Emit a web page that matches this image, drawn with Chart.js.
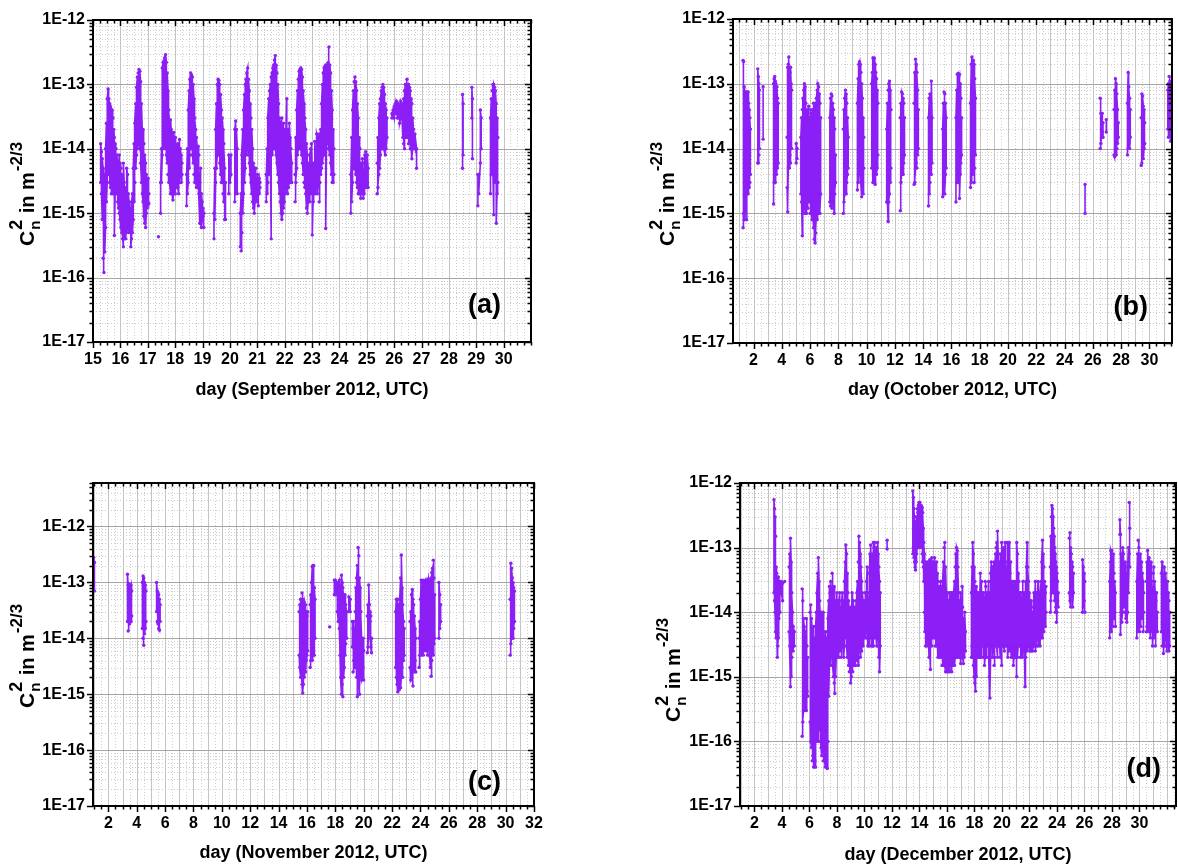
<!DOCTYPE html>
<html lang="en">
<head>
<meta charset="UTF-8" />
<title>Cn2 time series, September - December 2012</title>
<script src="https://cdn.jsdelivr.net/npm/chart.js"></script>
<style>
  html, body { margin: 0; padding: 0; background: #fff; overflow: hidden; }
  body { width: 1178px; height: 867px; position: relative; }
  canvas { position: absolute; }
</style>
</head>
<body>
<canvas id="sep"></canvas>
<canvas id="oct"></canvas>
<canvas id="nov"></canvas>
<canvas id="dec"></canvas>
<script>
// each run is a block of [day, lowest Cn2, highest Cn2] rows taken from the scintillometer record
const sepRuns = [
  [[15.28,3e-15,1.2e-14],[15.31,2e-15,9e-15],[15.34,8e-16,7e-15],[15.37,2e-16,5e-15],[15.40,1.2e-16,3e-15],
   [15.43,2.5e-16,4e-15],[15.46,6e-16,1e-14],[15.49,1.5e-15,2.5e-14],[15.52,3e-15,6e-14],[15.55,5e-15,8.5e-14],
   [15.58,4e-15,6e-14],[15.61,3e-15,5e-14],[15.64,2.5e-15,4.5e-14],[15.67,2e-15,4e-14],[15.70,2.5e-15,4e-14],
   [15.73,2e-15,3e-14],[15.76,2e-15,2e-14],[15.78,4.5e-16,1.5e-14],[15.81,2e-15,1.2e-14],[15.84,2.5e-15,1e-14],
   [15.87,2e-15,8e-15],[15.90,1.5e-15,6e-15],[15.93,1.2e-15,5e-15],[15.96,1e-15,8e-15],[15.99,8e-16,6e-15],
   [16.02,6e-16,5e-15],[16.05,5e-16,4e-15],[16.08,4e-16,3e-15],[16.11,3e-16,6e-15],[16.14,4e-16,3e-15],
   [16.17,5e-16,2.5e-15],[16.20,4e-16,2e-15],[16.23,6e-16,5e-15],[16.26,7e-16,4e-15],[16.29,5e-16,2e-15],
   [16.32,8e-16,1.5e-15],[16.35,5e-16,1.2e-15],[16.38,3e-16,1e-15],[16.41,4e-16,1.5e-15],[16.44,5e-16,2e-15],
   [16.47,8e-16,5e-15],[16.50,1.5e-15,1.2e-14],[16.53,3e-15,2.5e-14],[16.56,5e-15,5e-14],[16.59,8e-15,9e-14],
   [16.62,1e-14,1.3e-13],[16.65,1.5e-14,1.5e-13],[16.68,1.2e-14,1.7e-13],[16.71,1e-14,1.6e-13],[16.74,6e-15,1.1e-13],
   [16.77,3e-15,5e-14],[16.80,2e-15,2e-14],[16.83,1.5e-15,2e-14],[16.86,9e-16,1.2e-14],[16.89,7e-16,8e-15],
   [16.92,6e-16,6e-15],[16.95,1e-15,4e-15],[16.98,1.2e-15,3e-15],[17.01,1.5e-15,3.5e-15],[17.04,1.4e-15,2e-15]],
  [[17.39,4.3e-16,4.3e-16]],
  [[17.47,1e-15,3e-15],[17.50,3e-15,1e-14],[17.53,8e-15,1.8e-13],[17.56,1e-14,2.2e-13],[17.59,1.5e-14,2.3e-13],
   [17.62,1.2e-14,2.6e-13],[17.65,1e-14,2.9e-13],[17.68,8e-15,2.2e-13],[17.71,6e-15,1.5e-13],[17.74,4e-15,8e-14],
   [17.77,3e-15,4e-14],[17.80,3e-15,2.5e-14],[17.83,2e-15,2.8e-14],[17.86,2.5e-15,2e-14],[17.89,2e-15,1.8e-14],
   [17.92,1.6e-15,1.5e-14],[17.95,2e-15,1.8e-14],[17.98,2.5e-15,1.2e-14],[18.01,2e-15,1.5e-14],[18.04,2.5e-15,1e-14],
   [18.07,3e-15,8e-15],[18.10,2.5e-15,1.2e-14],[18.13,2e-15,8e-15],[18.16,3e-15,1.4e-14],[18.19,4e-15,1e-14],
   [18.22,3e-15,8e-15],[18.25,4e-15,6e-15]],
  [[18.42,1.3e-15,4e-15],[18.45,2e-15,1e-14],[18.48,3e-15,4e-14],[18.51,5e-15,8e-14],[18.54,8e-15,1.2e-13],
   [18.57,1e-14,1.5e-13],[18.60,1e-14,1.4e-13],[18.63,8e-15,1.3e-13],[18.66,6e-15,1e-13],[18.69,4e-15,6e-14],
   [18.72,3e-15,3e-14],[18.75,3e-15,2e-14],[18.78,2.5e-15,1.5e-14],[18.81,2.5e-15,1e-14],[18.84,3e-15,1.1e-14],
   [18.87,2e-15,8e-15],[18.90,7e-16,3e-15],[18.93,7e-16,5e-15],[18.96,6e-16,2e-15],[18.99,8e-16,1.5e-15],
   [19.02,9e-16,1.2e-15],[19.05,6e-16,1e-15]],
  [[19.42,4e-16,1e-15],[19.45,8e-16,5e-15],[19.48,3e-15,2e-14],[19.51,5e-15,5e-14],[19.54,8e-15,1e-13],
   [19.57,1e-14,1.2e-13],[19.60,8e-15,1.15e-13],[19.63,6e-15,1e-13],[19.66,4e-15,7e-14],[19.69,3e-15,4e-14],
   [19.72,3e-15,3e-14],[19.75,2e-15,2e-14],[19.78,1.5e-15,1.2e-14],[19.81,8e-16,5e-15],[19.84,8e-16,3e-15]],
  [[19.96,2e-15,8e-15],[20.00,3e-15,6e-15],[20.04,4e-15,8e-15]],
  [[20.18,1.5e-15,2e-14],[20.21,2e-15,2.7e-14],[20.24,3e-15,2e-14],[20.27,2e-15,1e-14]],
  [[20.38,3e-16,1e-15],[20.41,2.6e-16,2e-15],[20.44,5e-16,8e-15],[20.47,1e-15,2e-14],[20.50,2e-15,4e-14],
   [20.53,3e-15,7e-14],[20.56,5e-15,1e-13],[20.59,8e-15,1.2e-13],[20.62,1e-14,1.5e-13],[20.65,1.2e-14,1.8e-13],
   [20.68,8e-15,1.2e-13],[20.71,6e-15,8e-14],[20.74,4e-15,5e-14],[20.77,3e-15,3e-14],[20.80,2e-15,2e-14],
   [20.83,1.5e-15,1e-14],[20.86,1.2e-15,6e-15],[20.89,1e-15,5e-15],[20.92,1.5e-15,4e-15],[20.95,2e-15,5e-15],
   [20.98,1.5e-15,3e-15],[21.01,2e-15,4e-15],[21.04,1.3e-15,3e-15],[21.07,2e-15,3.5e-15],[21.10,2.5e-15,3e-15]],
  [[21.33,1.5e-15,4e-15],[21.36,2e-15,1e-14],[21.39,3e-15,3e-14],[21.42,4e-15,6e-14],[21.45,5e-15,8e-14],
   [21.48,6e-15,1e-13],[21.51,4e-16,1.3e-13],[21.54,8e-15,1.5e-13],[21.57,1e-14,1.8e-13],[21.60,1e-14,2e-13],
   [21.63,1.2e-14,2.4e-13],[21.66,1e-14,2.8e-13],[21.69,8e-15,2e-13],[21.72,6e-15,1.5e-13],[21.75,4e-15,1e-13],
   [21.78,3e-15,5e-14],[21.81,2e-15,3e-14],[21.84,1.5e-15,2.5e-14],[21.87,1e-15,2e-14],[21.90,8e-16,3e-14],
   [21.93,1e-15,2e-14],[21.96,1.2e-15,2.5e-14],[21.99,1.5e-15,1.5e-14],[22.02,2e-15,2e-14],[22.05,2.5e-15,1.5e-14],
   [22.08,3e-15,6e-14],[22.11,2e-15,1.2e-14],[22.14,2.5e-15,2e-14],[22.17,3e-15,2.5e-14],[22.20,4e-15,1.5e-14],
   [22.23,3e-15,1e-14],[22.26,3e-15,6e-15]],
  [[22.38,1.5e-15,4e-15],[22.41,3e-15,1.5e-14],[22.44,5e-15,4e-14],[22.47,8e-15,8e-14],[22.50,1e-14,1.2e-13],
   [22.53,1e-14,1.6e-13],[22.56,1.2e-14,1.7e-13],[22.59,1e-14,1.8e-13],[22.62,8e-15,1.7e-13],[22.65,6e-15,1.3e-13],
   [22.68,4e-15,8e-14],[22.71,3e-15,5e-14],[22.74,2.5e-15,3e-14],[22.77,2e-15,2e-14],[22.80,1.2e-15,1.2e-14],
   [22.83,1e-15,8e-15],[22.86,1.5e-15,5e-15],[22.89,2e-15,6e-15],[22.92,1.5e-15,8e-15],[22.95,2e-15,1e-14],
   [22.98,2.5e-15,1.2e-14],[23.01,4.6e-16,5e-15],[23.04,1.5e-15,3e-15],[23.07,2e-15,6e-15],[23.10,2.5e-15,1.3e-14],
   [23.13,2e-15,8e-15],[23.17,3e-15,1.7e-14],[23.20,2e-15,1.5e-14],[23.23,3e-15,1.2e-14],[23.26,1.5e-15,1.7e-14],
   [23.29,3e-15,1e-14],[23.32,4e-15,2e-14],[23.35,5e-15,5e-14],[23.38,6e-15,1e-13],[23.41,8e-15,1.5e-13],
   [23.44,1e-14,1.8e-13],[23.47,8e-15,1.9e-13],[23.50,5.8e-16,2e-13],[23.53,1e-14,1.9e-13],[23.56,1.2e-14,2e-13],
   [23.59,1.5e-14,2.2e-13],[23.62,1e-14,3.8e-13],[23.65,8e-15,2e-13],[23.68,6e-15,1.5e-13],[23.71,4e-15,8e-14],
   [23.74,3e-15,4e-14],[23.77,3e-15,2e-14],[23.80,4e-15,1e-14]],
  [[24.42,1e-15,4e-15],[24.45,1.5e-15,1.5e-14],[24.48,3e-15,4e-14],[24.51,5e-15,8e-14],[24.54,6e-15,1.1e-13],
   [24.57,5e-15,1.3e-13],[24.60,4e-15,1.1e-13],[24.63,3e-15,8e-14],[24.66,2.5e-15,5e-14],[24.69,2e-15,3e-14],
   [24.72,2e-15,1.5e-14],[24.75,2.5e-15,1e-14],[24.78,1.7e-15,6e-15],[24.81,2e-15,5e-15],[24.84,2.5e-15,7e-15],
   [24.87,1.7e-15,4e-15],[24.90,2e-15,6e-15],[24.93,2.5e-15,8e-15],[24.96,3e-15,9e-15],[24.99,2.5e-15,6e-15],
   [25.02,3e-15,8e-15],[25.05,2.5e-15,5e-15]],
  [[25.38,2e-15,6e-15],[25.41,2.5e-15,1.5e-14],[25.44,4e-15,3e-14],[25.47,5e-15,5e-14],[25.50,8e-15,6e-14],
   [25.53,1e-14,8e-14],[25.56,1e-14,9e-14],[25.59,1.2e-14,1e-13],[25.62,1e-14,9e-14],[25.65,1e-14,7e-14],
   [25.68,8e-15,5e-14],[25.71,1e-14,4e-14],[25.74,1.5e-14,3e-14]],
  [[25.92,3e-14,3.5e-14],[25.96,3.5e-14,4e-14],[26.00,3e-14,4.5e-14],[26.04,3.5e-14,5e-14],[26.08,3.5e-14,5.5e-14],
   [26.12,3e-14,5e-14],[26.16,3e-14,5e-14],[26.20,2.5e-14,4.5e-14],[26.24,3e-14,5.5e-14],[26.28,3.5e-14,5e-14],
   [26.32,1.5e-14,4e-14],[26.35,1.2e-14,6e-14],[26.38,1e-14,8e-14],[26.41,1.5e-14,1e-13],[26.44,2e-14,1e-13],
   [26.47,1.5e-14,1.2e-13],[26.50,2e-14,1e-13],[26.53,1.2e-14,1e-13],[26.56,1.5e-14,9e-14],[26.59,1e-14,8e-14],
   [26.62,1.2e-14,6e-14],[26.65,7e-15,5e-14],[26.68,1e-14,3e-14],[26.71,1.2e-14,2e-14],[26.76,1e-14,1.7e-14],
   [26.82,5e-15,1e-14]],
  [[28.50,5e-15,7e-14],[28.52,8e-15,5e-14]],
  [[28.84,3e-14,9e-14],[28.86,7e-15,6e-14]],
  [[29.06,1.3e-15,4e-15],[29.09,2e-15,4e-15],[29.15,6e-15,4e-14],[29.18,1e-14,3e-14]],
  [[29.52,2e-15,3e-14],[29.55,4e-15,6e-14],[29.58,5e-15,8e-14],[29.61,6e-15,1e-13],[29.64,9.5e-16,1e-13],
   [29.67,4e-15,9e-14],[29.70,3e-15,8e-14],[29.73,7e-16,5e-14],[29.76,2e-15,3e-14],[29.79,3e-15,1.5e-14]]
];

const octRuns = [
  [[1.26,6e-16,2.3e-13],[1.30,1e-15,2.2e-13],[1.34,8e-16,9e-14],[1.38,2e-15,6e-14],[1.42,1.5e-15,7e-14],
   [1.46,2e-15,7.5e-14],[1.50,8e-16,7e-14],[1.54,2e-15,7.5e-14],[1.58,3e-15,6e-14],[1.62,2e-15,7.5e-14],
   [1.66,3e-15,5e-14],[1.70,2.5e-15,4e-14],[1.74,3e-15,3e-14],[1.78,4e-15,2e-14]],
  [[2.30,6e-15,1.7e-13],[2.34,6e-15,1.3e-13],[2.38,8e-15,1e-13],[2.42,1e-14,8e-14]],
  [[2.68,1.4e-14,9e-14]],
  [[3.42,1.4e-15,1e-13],[3.46,3e-15,1.2e-13],[3.50,4e-15,1.3e-13],[3.54,3e-15,1.1e-13],[3.58,5e-15,1e-13],
   [3.62,4e-15,8e-14],[3.66,6e-15,9e-14],[3.70,5e-15,6e-14],[3.75,6e-15,5e-14]],
  [[4.38,2.5e-15,1.5e-14],[4.42,1.05e-15,1.8e-13],[4.46,5e-15,2e-13],[4.50,6e-15,2.6e-13],[4.54,5e-15,1.8e-13],
   [4.58,8e-15,1.5e-13],[4.62,6e-15,1.8e-13],[4.66,1e-14,1e-13],[4.70,1e-14,8e-14]],
  [[5.02,6e-15,1.2e-14],[5.08,7e-15,1e-14]],
  [[5.35,2e-15,1.5e-14],[5.40,1.5e-15,3e-14],[5.45,4.5e-16,4e-14],[5.50,1e-15,6e-14],[5.55,1.2e-15,8e-14],
   [5.60,2e-15,1e-13],[5.65,1e-15,9e-14],[5.70,1.5e-15,5e-14],[5.75,1e-15,3e-14],[5.80,2e-15,4e-14],
   [5.85,1.2e-15,3.5e-14],[5.90,2e-15,4.5e-14],[5.95,1.5e-15,3e-14],[6.00,1e-15,2.5e-14],[6.05,2e-15,4e-14],
   [6.10,1e-15,3e-14],[6.15,8e-16,3.5e-14],[6.20,1.2e-15,4e-14],[6.25,6e-16,5e-14],[6.30,4e-16,4e-14],
   [6.35,3.5e-16,3e-14],[6.40,5e-16,5e-14],[6.45,1e-15,6e-14],[6.50,8e-16,8e-14],[6.55,1.5e-15,1e-13],
   [6.60,1e-15,9e-14],[6.65,2e-15,7e-14],[6.70,1e-15,5e-14],[6.75,2e-15,3e-14]],
  [[7.40,1.5e-15,3e-14],[7.45,1.3e-15,6e-14],[7.50,2e-15,7e-14],[7.55,1.2e-15,6.5e-14],[7.60,1.5e-15,5e-14],
   [7.65,2e-15,4e-14],[7.70,1e-15,3e-14],[7.75,2e-15,2e-14],[7.80,3e-15,8e-15]],
  [[8.35,1e-15,2e-14],[8.40,1.5e-15,4e-14],[8.45,2e-15,6e-14],[8.50,3e-15,8e-14],[8.55,2e-15,7e-14],
   [8.60,3e-15,5e-14],[8.65,4e-15,3e-14],[8.70,5e-15,1.5e-14]],
  [[9.35,2.3e-15,5e-14],[9.40,3e-15,1.2e-13],[9.45,5e-15,2e-13],[9.50,6e-15,2.2e-13],[9.55,4e-15,2e-13],
   [9.60,3e-15,1.5e-13],[9.65,1.8e-15,1e-13],[9.70,3e-15,6e-14],[9.75,2e-15,3e-14],[9.80,5e-15,1.5e-14]],
  [[10.36,5e-15,1e-13],[10.40,5e-15,1.5e-13],[10.45,3e-15,2.5e-13],[10.50,5e-15,2.4e-13],[10.55,3e-15,2.5e-13],
   [10.60,2.8e-15,2e-13],[10.65,6e-15,1.5e-13],[10.70,4e-15,1.2e-13],[10.75,5e-15,8e-14],[10.80,8e-15,5e-14]],
  [[11.42,1.5e-15,2e-14],[11.47,1.5e-15,5e-14],[11.52,7.5e-16,8e-14],[11.57,1.5e-15,1e-13],[11.62,2e-15,1.1e-13],
   [11.67,3e-15,8e-14],[11.72,5e-15,4e-14]],
  [[12.38,1.1e-15,3e-14],[12.43,3e-15,5e-14],[12.48,4e-15,7.5e-14],[12.53,5e-15,7e-14],[12.58,4e-15,6e-14],
   [12.63,6e-15,5e-14],[12.68,8e-15,3e-14]],
  [[13.36,2.8e-15,5e-14],[13.41,3e-15,1.5e-13],[13.46,5e-15,2.4e-13],[13.51,6e-15,2e-13],[13.56,5e-15,1.5e-13],
   [13.61,8e-15,8e-14],[13.66,1e-14,4e-14]],
  [[14.38,1.3e-15,3e-14],[14.43,2e-15,6e-14],[14.48,3e-15,7e-14],[14.53,5e-15,5e-14],[14.58,4e-15,1.1e-13],
   [14.63,6e-15,3e-14]],
  [[15.38,1.8e-15,2e-14],[15.43,2e-15,5e-14],[15.48,3e-15,7.5e-14],[15.53,2e-15,7e-14],[15.58,4e-15,5e-14],
   [15.63,5e-15,3e-14]],
  [[16.32,1.5e-15,3e-14],[16.37,3e-15,8e-14],[16.42,4e-15,1.4e-13],[16.47,3e-15,1.45e-13],[16.52,5e-15,1.3e-13],
   [16.57,1.7e-15,1.4e-13],[16.62,4e-15,1e-13],[16.67,6e-15,6e-14],[16.72,8e-15,3e-14]],
  [[17.35,2.5e-15,5e-14],[17.40,3e-15,2e-13],[17.45,5e-15,2.6e-13],[17.50,4e-15,2.2e-13],[17.55,6e-15,2.3e-13],
   [17.60,3e-15,2e-13],[17.65,5e-15,1.2e-13],[17.70,8e-15,6e-14]],
  [[25.45,1e-15,2.8e-15]],
  [[26.52,1e-14,6e-14],[26.57,1.2e-14,3.5e-14],[26.62,1.5e-14,3e-14],[26.67,1.8e-14,3.5e-14],[26.72,1.5e-14,2.5e-14]],
  [[26.95,1.8e-14,2.8e-14]],
  [[27.50,8e-15,4e-14],[27.55,7.5e-15,8e-14],[27.60,1e-14,1.2e-13],[27.65,8e-15,1e-13],[27.70,1e-14,7e-14],
   [27.75,1.2e-14,4e-14],[27.80,1.5e-14,2.5e-14]],
  [[28.45,8e-15,5e-14],[28.50,1e-14,1.5e-13],[28.55,1.2e-14,9e-14],[28.60,1e-14,6e-14],[28.65,1.5e-14,4e-14]],
  [[29.42,5.5e-15,3e-14],[29.47,6e-15,7e-14],[29.52,8e-15,6.5e-14],[29.57,7e-15,4.5e-14],[29.62,1e-14,4e-14],
   [29.67,1.2e-14,2.5e-14]],
  [[31.30,2e-14,8e-14],[31.35,1.5e-14,1e-13],[31.40,3e-14,1.3e-13],[31.45,2e-14,1.1e-13],[31.50,1.3e-14,1e-13],
   [31.55,2e-14,9e-14]]
];

const novRuns = [
  [[0.97,2.2e-13,2.8e-13],[1.02,7e-14,2.3e-13]],
  [[3.35,2e-14,1.4e-13],[3.40,1.35e-14,9e-14],[3.45,2e-14,9.5e-14],[3.50,1.8e-14,9e-14],[3.55,2.2e-14,8e-14],
   [3.60,2e-14,9e-14],[3.65,2.5e-14,7e-14]],
  [[4.40,1.5e-14,1e-13],[4.45,1e-14,1.3e-13],[4.50,7.5e-15,1.2e-13],[4.55,1.2e-14,1e-13],[4.60,1.5e-14,9e-14],
   [4.65,2e-14,7e-14]],
  [[5.40,3e-14,1e-13],[5.45,2e-14,7e-14],[5.50,1.8e-14,6.5e-14],[5.55,1.5e-14,6e-14],[5.60,1.4e-14,5e-14],
   [5.65,2e-14,4e-14]],
  [[15.45,5e-15,3e-14],[15.50,3e-15,4e-14],[15.55,2e-15,5e-14],[15.60,2.5e-15,4e-14],[15.65,1.5e-15,6.5e-14],
   [15.70,1.05e-15,5e-14],[15.75,1.5e-15,4e-14],[15.80,2e-15,4.5e-14],[15.85,3e-15,3e-14],[15.90,2.5e-15,4e-14],
   [15.95,4e-15,3e-14],[16.00,5e-15,2.5e-14],[16.05,6e-15,3e-14]],
  [[16.22,3e-15,4e-14],[16.27,4e-15,6e-14],[16.32,5e-15,1e-13],[16.37,4e-15,1.9e-13],[16.42,5e-15,2e-13],
   [16.47,6e-15,2e-13],[16.52,5e-15,8e-14],[16.57,1e-14,5e-14]],
  [[17.60,1.6e-14,1.6e-14]],
  [[17.93,6e-14,1.1e-13],[18.00,8e-14,1.1e-13],[18.07,6e-14,1e-13],[18.14,3e-14,9e-14],[18.21,2e-14,1e-13],
   [18.28,1.5e-14,1.1e-13],[18.33,5e-15,8e-14],[18.38,2e-15,9e-14],[18.43,1e-15,1.35e-13],[18.48,1.5e-15,1e-13],
   [18.53,9e-16,8e-14],[18.58,2e-15,6e-14],[18.63,3e-15,5e-14],[18.68,5e-15,6e-14],[18.73,8e-15,4e-14],
   [18.80,1e-14,3e-14]],
  [[18.95,3e-14,5.5e-14],[19.05,3e-14,5e-14]],
  [[19.20,7e-15,2e-14],[19.25,2.5e-15,1.5e-14],[19.30,4e-15,2e-14],[19.35,5e-15,1.2e-14],[19.40,3e-15,3e-14],
   [19.45,6e-15,8e-14],[19.50,2e-15,1.2e-13],[19.55,9e-16,2e-13],[19.60,2e-15,4.2e-13],[19.65,3e-15,3e-13],
   [19.70,1e-15,1.2e-13],[19.75,2e-15,8e-14],[19.80,4e-15,3e-14],[19.85,1.8e-15,1e-14],[19.90,2e-15,8e-15],
   [19.95,3e-15,1e-14],[20.00,1.8e-15,6e-15]],
  [[20.25,5.5e-15,2.5e-14],[20.30,7e-15,4e-14],[20.35,1e-14,9e-14],[20.40,1.5e-14,4e-14],[20.45,2e-14,3e-14],
   [20.50,7e-15,2.5e-14],[20.55,5.5e-15,1e-14]],
  [[22.25,3e-15,3e-14],[22.30,2e-15,5e-14],[22.35,1.5e-15,4e-14],[22.40,1.1e-15,5e-14],[22.45,1.5e-15,4e-14],
   [22.50,1.2e-15,3e-14],[22.55,2e-15,5e-14],[22.60,1.3e-15,1.2e-13],[22.65,2e-15,3.1e-13],[22.70,3e-15,8e-14],
   [22.75,2e-15,4e-14],[22.80,4e-15,2e-14],[22.85,5e-15,1.5e-14]],
  [[23.27,3e-15,2e-14],[23.32,1.8e-15,3e-14],[23.37,2e-15,6e-14],[23.42,3e-15,7.5e-14],[23.47,1.4e-15,5e-14],
   [23.52,2.5e-15,4e-14],[23.57,3e-15,2.5e-14],[23.62,4e-15,1.5e-14],[23.67,2.5e-15,1e-14]],
  [[23.90,3e-15,1e-14],[23.95,5e-15,2e-14],[24.00,6e-15,5e-14],[24.05,5e-15,1.1e-13],[24.10,6e-15,1e-13],
   [24.15,8e-15,8e-14],[24.20,5e-15,1.1e-13],[24.25,6e-15,9e-14],[24.30,8e-15,1e-13],[24.35,1e-14,1.1e-13],
   [24.40,6e-15,8e-14],[24.45,8e-15,1.1e-13],[24.50,5e-15,1e-13],[24.55,1e-14,1.15e-13],[24.60,7e-15,9e-14],
   [24.65,5e-15,1.1e-13],[24.70,3e-15,1e-13],[24.75,2.1e-15,1.2e-13],[24.80,4e-15,1.5e-13],[24.85,6e-15,1.8e-13],
   [24.90,5e-15,2.5e-13],[24.95,8e-15,1.2e-13],[25.00,1e-14,6e-14]],
  [[25.30,1e-14,1e-13],[25.36,1.5e-14,6e-14],[25.42,2e-14,4e-14]],
  [[30.32,5e-15,5e-14],[30.37,8e-15,2.2e-13],[30.42,1e-14,1.8e-13],[30.47,1.2e-14,1.2e-13],[30.52,1e-14,1e-13],
   [30.57,1.5e-14,8e-14],[30.62,2e-14,7e-14]]
];

const decRuns = [
  [[3.42,2e-14,5.5e-13],[3.46,1.5e-14,4e-13],[3.50,1e-14,3e-13],[3.54,5e-15,1.5e-13],[3.58,4e-15,5e-14],
   [3.62,2e-14,4e-14],[3.66,2e-15,3.5e-14],[3.70,3e-15,3e-14],[3.74,4e-15,3.5e-14],[3.78,8e-15,2.5e-14],
   [3.85,1e-14,3e-14],[3.95,2e-14,3e-14],[4.05,1.5e-14,2.8e-14],[4.20,3e-14,3e-14]],
  [[4.52,5e-15,5e-14],[4.57,3e-15,8e-14],[4.62,7e-16,1.4e-13],[4.67,1e-15,6e-14],[4.72,2e-15,2e-14],
   [4.77,3e-15,1e-14],[4.82,2.5e-15,6e-15],[4.90,3e-15,5e-15]],
  [[5.47,1.2e-16,2.3e-14],[5.52,2e-16,1.5e-14],[5.57,3e-16,8e-15],[5.62,5e-16,6e-15],[5.67,3e-16,5e-15],
   [5.72,4e-16,4e-15],[5.77,3e-16,8e-15],[5.82,6e-16,3e-15],[5.87,5e-16,2e-15]],
  [[6.05,2e-16,1e-14],[6.10,1e-16,1.3e-14],[6.15,8e-17,8e-15],[6.20,5e-17,5e-15],[6.25,6e-17,3e-15],
   [6.30,4e-17,6e-15],[6.35,4e-17,4e-15],[6.40,5e-17,3e-15],[6.45,4e-17,6e-15],[6.50,1e-16,1e-14],
   [6.55,1.5e-16,2e-14],[6.60,2e-16,4e-14],[6.65,1e-16,7e-14],[6.70,2e-16,3e-14],[6.75,1.5e-16,1.5e-14],
   [6.80,1e-16,8e-15],[6.85,8e-17,1e-14],[6.90,6e-17,6e-15],[6.95,8e-17,8e-15],[7.00,5e-17,1e-14],
   [7.05,8e-17,5e-15],[7.10,5e-17,4e-15],[7.15,4e-17,3e-15],[7.20,6e-17,5e-15],[7.25,4e-17,2e-15],
   [7.30,3.8e-17,4e-15],[7.35,1e-16,8e-15],[7.40,5e-16,1.5e-14],
   [7.45,1.5e-15,2.5e-14],[7.50,2e-15,2e-14],[7.55,1.5e-15,3e-14],[7.60,3e-15,2e-14],[7.65,2e-15,4e-14],
   [7.70,1.5e-15,2e-14],[7.75,1e-15,1.5e-14],[7.80,8e-16,2.5e-14],[7.85,5.5e-16,1e-14],[7.90,1e-15,1.5e-14],
   [7.95,2e-15,1.2e-14],[8.00,3e-15,2e-14],[8.05,2e-15,1.5e-14],[8.10,3e-15,1e-14],[8.15,2e-15,1.5e-14],
   [8.20,2.5e-15,2e-14],[8.25,3e-15,1.2e-14],[8.30,2e-15,1e-14],[8.35,3e-15,1.5e-14],[8.40,4e-15,2e-14],
   [8.45,3e-15,1.5e-14],[8.50,2e-15,1e-14],[8.55,3e-15,3e-14],[8.60,4e-15,6e-14],[8.65,5e-15,1.1e-13],
   [8.70,3e-15,8e-14],[8.75,2e-15,4e-14],[8.80,3e-15,2e-14],[8.85,1.5e-15,1.5e-14],[8.90,1.2e-15,1e-14],
   [8.95,1.5e-15,8e-15],[9.00,8e-16,1.2e-14],[9.05,1e-15,8e-15],[9.10,1.5e-15,2e-14],[9.15,1.2e-15,1e-14],
   [9.20,2e-15,1.5e-14],[9.25,1.5e-15,1.2e-14],[9.30,2e-15,8e-15],[9.35,1.5e-15,1e-14],[9.40,2e-15,1.5e-14],
   [9.45,1.8e-15,2e-14],[9.50,2e-15,3e-14],[9.55,1.5e-15,6e-14],[9.60,2e-15,1.5e-13],[9.65,3e-15,1.2e-13],
   [9.70,2e-15,8e-14],[9.75,3e-15,5e-14],[9.80,2.5e-15,3e-14],[9.85,4e-15,2e-14],[9.90,3e-15,1.5e-14],
   [9.95,5e-15,1.2e-14],[10.00,4e-15,1.5e-14],[10.05,5e-15,2e-14],[10.10,4e-15,1.5e-14],[10.15,6e-15,3e-14],
   [10.20,4e-15,5e-14],[10.25,3e-15,2e-14],[10.30,5e-15,1.5e-14],[10.35,3e-15,4e-14],[10.40,5e-15,8e-14],
   [10.45,4e-15,1.1e-13],[10.50,3e-15,6e-14],[10.55,5e-15,4e-14],[10.60,3e-15,8e-14],[10.65,3e-15,1.2e-13],
   [10.70,5e-15,1e-13],[10.75,4e-15,1.2e-13],[10.80,6e-15,8e-14],[10.85,4e-15,6e-14],[10.90,3e-15,1e-13],
   [10.95,5e-15,1.2e-13],[11.00,3e-15,8e-14],[11.05,2e-15,5e-14],[11.10,1.2e-15,3e-14],[11.15,3e-15,2e-14]],
  [[11.65,9.5e-14,1.3e-13]],
  [[13.52,8e-14,7.5e-13],[13.56,1e-13,6e-13],[13.60,7e-14,4e-13],[13.64,6e-14,3e-13],[13.68,5e-14,2.5e-13],
   [13.72,4.5e-14,2e-13],[13.76,6e-14,2.5e-13],[13.80,8e-14,3e-13],[13.84,1e-13,4e-13],[13.88,1.2e-13,3.5e-13],
   [13.92,1e-13,4.5e-13],[13.96,1.5e-13,5e-13],[14.00,1.2e-13,4.5e-13],[14.04,1e-13,5e-13],[14.08,1.5e-13,4e-13],
   [14.12,1.2e-13,4.5e-13],[14.16,1e-13,4e-13],[14.20,8e-14,4.2e-13],[14.24,6e-14,3.5e-13],[14.28,5e-14,2e-13],
   [14.32,3e-14,1.2e-13],[14.36,1e-14,8e-14],[14.40,5e-15,6e-14],[14.45,3e-15,5e-14],[14.50,4e-15,4e-14],
   [14.55,3e-15,6e-14],[14.60,5e-15,5e-14],[14.65,4e-15,6e-14],[14.70,2e-15,5e-14],[14.75,3e-15,6.5e-14],
   [14.80,1.3e-15,4e-14],[14.85,4e-15,6e-14],[14.90,3e-15,7e-14],[14.95,5e-15,5e-14],[15.00,4e-15,6e-14],
   [15.05,6e-15,4e-14],[15.10,4e-15,7e-14],[15.15,3e-15,5e-14],[15.20,5e-15,3e-14],[15.25,3e-15,6e-14],
   [15.30,4e-15,4e-14],[15.35,2e-15,3e-14],[15.40,3e-15,2e-14],[15.45,2e-15,2.5e-14],[15.50,3e-15,2e-14],
   [15.55,2e-15,3e-14],[15.60,2e-15,2e-14],[15.65,1.5e-15,2.5e-14],[15.70,2e-15,3e-14],[15.75,1.5e-15,6e-14],
   [15.80,2e-15,1e-13],[15.85,1.5e-15,1.2e-13],[15.90,1.2e-15,5e-14],[15.95,1.5e-15,2e-14],[16.00,1.2e-15,1.5e-14],
   [16.05,1.5e-15,2e-14],[16.10,1.2e-15,1.5e-14],[16.15,2e-15,1.2e-14],[16.20,1.2e-15,2e-14],[16.25,1.5e-15,1.5e-14],
   [16.30,2e-15,2e-14],[16.35,1.2e-15,1.5e-14],[16.40,2e-15,2e-14],[16.45,1.5e-15,1.2e-14],[16.50,2e-15,2e-14],
   [16.55,1.5e-15,3e-14],[16.60,2e-15,5e-14],[16.65,3e-15,8e-14],[16.70,2e-15,1e-13],[16.75,3e-15,9e-14],
   [16.80,2e-15,5e-14],[16.85,3e-15,2e-14],[16.90,2e-15,1.5e-14],[16.95,3e-15,1e-14],[17.00,1.6e-15,2e-14],
   [17.05,2e-15,1e-14],[17.10,3e-15,2.5e-14],[17.15,2e-15,1.2e-14],[17.20,1.6e-15,8e-15],[17.25,2e-15,6e-15],
   [17.30,3e-15,1e-14],[17.35,2.5e-15,5e-15]],
  [[17.78,2e-15,2e-14],[17.83,3e-15,5e-14],[17.88,2e-15,1.2e-13],[17.93,1.5e-15,8e-14],[17.98,1e-15,5e-14],
   [18.03,8e-16,3e-14],[18.08,6e-16,2e-14],[18.13,1e-15,2.5e-14],[18.18,2e-15,1.5e-14],[18.23,3e-15,2e-14],
   [18.28,2e-15,1.2e-14],[18.33,3e-15,2e-14],[18.38,2e-15,1.5e-14],[18.43,3e-15,4e-14],[18.48,2e-15,1.5e-14],
   [18.53,3e-15,3e-14],[18.58,4e-15,2e-14],[18.63,2e-15,1e-14],[18.68,3e-15,2e-14],[18.73,1.5e-15,1.5e-14],
   [18.78,2e-15,3e-14],[18.83,3e-15,2.5e-14],[18.88,2e-15,1e-14],[18.93,3e-15,2e-14],[18.98,4e-15,1.5e-14],
   [19.03,2e-15,3e-14],[19.08,1e-15,2e-14],[19.13,4.7e-16,1.5e-14],[19.18,2e-15,4e-14],[19.23,3e-15,6e-14],
   [19.28,4e-15,5e-14],[19.33,2e-15,3e-14],[19.38,3e-15,5e-14],[19.43,1.5e-15,6e-14],[19.48,2e-15,4e-14],
   [19.53,3e-15,8e-14],[19.58,5e-15,1e-13],[19.63,3e-15,1.2e-13],[19.68,2e-15,1.8e-13],[19.73,3e-15,8e-14],
   [19.78,4e-15,4e-14],[19.83,3e-15,6e-14],[19.88,2e-15,8e-14],[19.93,3e-15,5e-14],[19.98,1.5e-15,1.2e-13],
   [20.03,3e-15,6e-14],[20.08,4e-15,4e-14],[20.13,3e-15,1e-13],[20.18,2.5e-15,5e-14],[20.23,3e-15,1.2e-13],
   [20.28,5e-15,6e-14],[20.33,3e-15,4e-14],[20.38,4e-15,1.2e-13],[20.43,2e-15,5e-14],[20.48,3e-15,3e-14],
   [20.53,2.5e-15,1.2e-13],[20.58,4e-15,4e-14],[20.63,3e-15,6e-14],[20.68,2e-15,3e-14],[20.73,3e-15,2e-14],
   [20.78,2e-15,3e-14],[20.83,1.5e-15,2e-14],[20.88,2e-15,3e-14],[20.93,3e-15,2.5e-14],[20.98,2e-15,1.5e-14],
   [21.03,3e-15,3e-14],[21.08,1e-15,1.2e-13],[21.13,2e-15,8e-14],[21.18,3e-15,4e-14],[21.23,4e-15,3e-14],
   [21.28,3e-15,2e-14],[21.33,2e-15,1.5e-14],[21.38,3e-15,2e-14],[21.43,4e-15,1.5e-14],[21.48,2e-15,2e-14],
   [21.53,3e-15,3e-14],[21.58,2.5e-15,1.5e-14],[21.63,3e-15,2e-14],[21.68,7e-16,1.5e-14],[21.73,2e-15,3e-14],
   [21.78,3e-15,5e-14],[21.83,2.5e-15,1.2e-13],[21.88,3e-15,5e-14],[21.93,4e-15,3e-14],[21.98,3e-15,2e-14],
   [22.03,2.5e-15,1.5e-14],[22.08,3e-15,1e-14],[22.13,2.5e-15,1.5e-14],[22.18,3e-15,8e-15],[22.23,2.5e-15,1e-14],
   [22.28,3e-15,1.2e-14],[22.33,4e-15,2e-14],[22.38,3e-15,1.5e-14],[22.43,2.5e-15,3e-14],[22.48,4e-15,2e-14],
   [22.53,3e-15,1.5e-14],[22.58,5e-15,2e-14],[22.63,3e-15,3e-14],[22.68,4e-15,2e-14],[22.73,5e-15,1.5e-14],
   [22.78,3e-15,2e-14],[22.85,4e-15,3e-14],[22.90,5e-15,6e-14],[22.95,4e-15,1.3e-13],[23.00,6e-15,8e-14],
   [23.05,5e-15,5e-14],[23.10,8e-15,3e-14],[23.15,6e-15,2e-14],[23.20,1e-14,2.5e-14]],
  [[23.52,1e-14,5e-14],[23.56,1.5e-14,1.5e-13],[23.60,2e-14,3e-13],[23.64,2.5e-14,4.5e-13],[23.68,3e-14,4e-13],
   [23.72,2e-14,3e-13],[23.76,3e-14,2e-13],[23.80,2e-14,1.5e-13],[23.84,1.5e-14,1e-13],[23.88,1e-14,8e-14],
   [23.92,1.2e-14,6e-14],[23.96,7e-15,5e-14],[24.00,1e-14,4e-14],[24.05,1.5e-14,3e-14],[24.10,1.2e-14,2e-14]],
  [[24.90,2e-14,1.4e-13],[24.95,1.5e-14,1.7e-13],[25.00,1.2e-14,1e-13],[25.05,2e-14,8e-14],[25.10,3e-14,6e-14],
   [25.15,1.2e-14,5e-14],[25.20,2e-14,4e-14]],
  [[25.86,1e-14,6.5e-14],[25.92,1.2e-14,5e-14],[25.98,1.5e-14,4e-14],[26.03,1e-14,3e-14]],
  [[27.84,4e-15,3e-14],[27.88,5e-15,6e-14],[27.92,6e-15,9e-14],[27.96,5e-15,8e-14],[28.00,8e-15,9e-14],
   [28.05,6e-15,5e-14],[28.10,1e-14,8e-14],[28.15,8e-15,4e-14],[28.20,1e-14,3e-14],[28.25,6e-15,2e-14]],
  [[28.58,1.6e-13,2.7e-13],[28.62,4.5e-15,1.6e-13],[28.66,1e-14,8e-14],[28.72,7e-15,6e-14],[28.78,1e-14,1e-13],
   [28.84,1.5e-14,8e-14],[28.90,1.2e-14,5e-14],[28.96,1e-14,6e-14],[29.02,8e-15,4e-14],[29.08,7e-15,3e-14],
   [29.14,1e-14,5e-14],[29.20,2e-14,1e-13],[29.26,8e-14,5e-13],[29.30,5e-14,2e-13]],
  [[29.81,4e-15,3e-14],[29.86,5e-15,8e-14],[29.91,6e-15,1.3e-13],[29.96,8e-15,1e-13],[30.01,5e-15,6e-14],
   [30.06,1e-14,8e-14],[30.11,6e-15,5e-14],[30.16,1e-14,6e-14],[30.21,8e-15,4e-14],[30.26,5e-15,3e-14],
   [30.31,1e-14,2e-14]],
  [[30.50,5e-15,3e-14],[30.55,6e-15,6e-14],[30.60,8e-15,9e-14],[30.65,5e-15,5e-14],[30.70,1e-14,7e-14],
   [30.75,6e-15,4e-14],[30.80,4e-15,5e-14],[30.85,8e-15,6e-14],[30.90,5e-15,3e-14],[30.95,3e-15,2e-14],
   [31.00,6e-15,4e-14],[31.05,4e-15,5e-14],[31.10,5e-15,3e-14],[31.15,3e-15,2e-14],[31.20,5e-15,1.5e-14],
   [31.25,8e-15,2e-14],[31.30,5e-15,1e-14]],
  [[31.60,5e-15,4e-14],[31.65,3e-15,6e-14],[31.70,5e-15,5e-14],[31.75,2.3e-15,3e-14],[31.80,4e-15,5e-14],
   [31.85,3e-15,2e-14],[31.90,5e-15,4e-14],[31.95,3e-15,3e-14],[32.00,2.5e-15,2e-14],[32.05,4e-15,3e-14],
   [32.10,3e-15,2e-14],[32.15,2.5e-15,1.5e-14],[32.20,3e-15,1e-14]]
];

// axis labels
const decadeTicks = [1e-17, 1e-16, 1e-15, 1e-14, 1e-13, 1e-12];
const sepDayTicks = [15, 16, 17, 18, 19, 20, 21, 22, 23, 24, 25, 26, 27, 28, 29, 30];
const octDayTicks = [2, 4, 6, 8, 10, 12, 14, 16, 18, 20, 22, 24, 26, 28, 30];
const novDayTicks = [2, 4, 6, 8, 10, 12, 14, 16, 18, 20, 22, 24, 26, 28, 30, 32];
const decDayTicks = [2, 4, 6, 8, 10, 12, 14, 16, 18, 20, 22, 24, 26, 28, 30];

const PURPLE = '#8b1ff5';
const FONT = '"Liberation Sans", Arial, sans-serif';

// canvas box [left, top, width, height] and plot area [left, top, right, bottom], page pixels
const panels = [
  { id: 'sep', runs: sepRuns, ticks: sepDayTicks, minor: 0.25, xMin: 15, xMax: 31, yMax: 1e-12,
    box: [0, 0, 560, 420], area: [93, 20, 531, 342],
    xTitle: 'day (September 2012, UTC)', xTitleY: 390, yTitle: [34, 246], tag: '(a)', tagAt: [501, 313] },
  { id: 'oct', runs: octRuns, ticks: octDayTicks, minor: 0.5, xMin: 0.55, xMax: 31.6, yMax: 1e-12,
    box: [600, 0, 578, 420], area: [733, 19, 1172, 343],
    xTitle: 'day (October 2012, UTC)', xTitleY: 390, yTitle: [674, 246], tag: '(b)', tagAt: [1148, 315] },
  { id: 'nov', runs: novRuns, ticks: novDayTicks, minor: 0.5, xMin: 0.92, xMax: 32, yMax: 6e-12,
    box: [0, 440, 560, 427], area: [93, 483, 534, 806],
    xTitle: 'day (November 2012, UTC)', xTitleY: 853, yTitle: [34, 708], tag: '(c)', tagAt: [501, 790] },
  { id: 'dec', runs: decRuns, ticks: decDayTicks, minor: 0.5, xMin: 0.95, xMax: 32.66, yMax: 1e-12,
    box: [600, 440, 578, 427], area: [740, 483, 1176, 806],
    xTitle: 'day (December 2012, UTC)', xTitleY: 855, yTitle: [680, 722], tag: '(d)', tagAt: [1161, 777] }
];

// zig-zag through each row's low and high value so a run reads as a dense band of samples
function toPoints(runs) {
  const pts = [];
  runs.forEach(run => {
    run.forEach(([d, lo, hi], i) => {
      if (lo === hi) pts.push({ x: d, y: lo });
      else if (i % 2 === 0) pts.push({ x: d, y: lo }, { x: d, y: hi });
      else pts.push({ x: d, y: hi }, { x: d, y: lo });
    });
    pts.push({ x: run[run.length - 1][0], y: null });
  });
  return pts;
}

function minorDays(p) {
  const out = [];
  for (let k = Math.ceil(p.xMin / p.minor); k * p.minor <= p.xMax + 1e-9; k++) out.push(+(k * p.minor).toFixed(3));
  return out;
}

function minorValues(p) {
  const out = [];
  for (let e = -17; e <= -12; e++) {
    for (let m = 2; m <= 9; m++) {
      const v = m * Math.pow(10, e);
      if (v <= p.yMax * 1.0001) out.push(v);
    }
  }
  return out;
}

function drawYTitle(ctx, x, y) {
  ctx.save();
  ctx.translate(x, y);
  ctx.rotate(-Math.PI / 2);
  ctx.fillStyle = '#000';
  ctx.textAlign = 'left';
  ctx.textBaseline = 'alphabetic';
  let cx = 0;
  ctx.font = 'bold 21px ' + FONT;
  ctx.fillText('C', cx, 0);
  cx += ctx.measureText('C').width;
  ctx.font = 'bold 15px ' + FONT;
  ctx.fillText('n', cx + 1, 6);
  const wn = ctx.measureText('n').width;
  ctx.font = 'bold 18px ' + FONT;
  ctx.fillText('2', cx + 1, -12);
  cx += Math.max(wn, ctx.measureText('2').width) + 2;
  ctx.font = 'bold 20px ' + FONT;
  ctx.fillText(' in m', cx, 0);
  cx += ctx.measureText(' in m').width + 1;
  ctx.font = 'bold 17px ' + FONT;
  ctx.fillText('-2/3', cx, -12);
  ctx.restore();
}

function decor(p) {
  const ox = p.box[0], oy = p.box[1];
  return {
    id: 'decor',
    beforeDatasetsDraw(chart) {
      const { ctx, chartArea: a, scales: { x, y } } = chart;
      ctx.save();
      ctx.lineWidth = 1;
      // dotted minor grid
      ctx.strokeStyle = '#cdcdcd';
      ctx.setLineDash([1, 2]);
      ctx.beginPath();
      minorDays(p).forEach(d => {
        if (Number.isInteger(d)) return;
        const px = Math.round(x.getPixelForValue(d)) + 0.5;
        ctx.moveTo(px, a.top); ctx.lineTo(px, a.bottom);
      });
      minorValues(p).forEach(v => {
        const py = Math.round(y.getPixelForValue(v)) + 0.5;
        ctx.moveTo(a.left, py); ctx.lineTo(a.right, py);
      });
      ctx.stroke();
      ctx.setLineDash([]);
      // one solid line per day
      ctx.strokeStyle = '#c4c4c4';
      ctx.beginPath();
      for (let d = Math.ceil(p.xMin); d <= p.xMax; d++) {
        const px = Math.round(x.getPixelForValue(d)) + 0.5;
        ctx.moveTo(px, a.top); ctx.lineTo(px, a.bottom);
      }
      ctx.stroke();
      // decades
      ctx.strokeStyle = '#a6a6a6';
      ctx.beginPath();
      decadeTicks.forEach(v => {
        const py = Math.round(y.getPixelForValue(v)) + 0.5;
        ctx.moveTo(a.left, py); ctx.lineTo(a.right, py);
      });
      ctx.stroke();
      ctx.restore();
    },
    afterDraw(chart) {
      const { ctx, chartArea: a, scales: { x, y } } = chart;
      ctx.save();
      ctx.strokeStyle = '#000';
      ctx.lineWidth = 1.5;
      ctx.beginPath();
      // bottom ticks outward, top ticks inward
      minorDays(p).forEach(d => {
        const px = Math.round(x.getPixelForValue(d)) + 0.5;
        const len = p.ticks.includes(d) ? 6 : 3.5;
        ctx.moveTo(px, a.bottom); ctx.lineTo(px, a.bottom + len);
        ctx.moveTo(px, a.top); ctx.lineTo(px, a.top + len);
      });
      // left ticks outward, right ticks inward
      decadeTicks.concat(minorValues(p)).forEach(v => {
        const py = Math.round(y.getPixelForValue(v)) + 0.5;
        const len = decadeTicks.includes(v) ? 6 : 3.5;
        ctx.moveTo(a.left, py); ctx.lineTo(a.left - len, py);
        ctx.moveTo(a.right, py); ctx.lineTo(a.right - len, py);
      });
      ctx.stroke();
      ctx.lineWidth = 2;
      ctx.strokeRect(a.left, a.top, a.right - a.left, a.bottom - a.top);

      ctx.fillStyle = '#000';
      ctx.font = 'bold 16px ' + FONT;
      ctx.textAlign = 'center';
      ctx.textBaseline = 'middle';
      p.ticks.forEach(d => ctx.fillText(String(d), x.getPixelForValue(d), a.bottom + 18));
      ctx.textAlign = 'right';
      decadeTicks.forEach(v => {
        ctx.fillText('1E' + Math.round(Math.log10(v)), a.left - 8, y.getPixelForValue(v));
      });

      ctx.font = 'bold 18px ' + FONT;
      ctx.textAlign = 'center';
      ctx.fillText(p.xTitle, (a.left + a.right) / 2, p.xTitleY - oy);

      ctx.font = 'bold 27px ' + FONT;
      ctx.textAlign = 'right';
      ctx.textBaseline = 'alphabetic';
      ctx.fillText(p.tag, p.tagAt[0] - ox, p.tagAt[1] - oy);
      ctx.restore();

      drawYTitle(ctx, p.yTitle[0] - ox, p.yTitle[1] - oy);
    }
  };
}

panels.forEach(p => {
  const [bx, by, bw, bh] = p.box;
  const [L, T, R, B] = p.area;
  const canvas = document.getElementById(p.id);
  canvas.width = bw;
  canvas.height = bh;
  canvas.style.left = bx + 'px';
  canvas.style.top = by + 'px';
  canvas.style.width = bw + 'px';
  canvas.style.height = bh + 'px';

  new Chart(canvas, {
    type: 'line',
    data: {
      datasets: [{
        data: toPoints(p.runs),
        borderColor: PURPLE,
        backgroundColor: PURPLE,
        pointBackgroundColor: PURPLE,
        borderWidth: 1.6,
        pointRadius: 1.7,
        pointBorderWidth: 0,
        pointHoverRadius: 0,
        spanGaps: false,
        tension: 0
      }]
    },
    options: {
      responsive: false,
      animation: false,
      events: [],
      layout: { padding: { left: L - bx, top: T - by, right: bx + bw - R, bottom: by + bh - B } },
      plugins: { legend: { display: false }, tooltip: { enabled: false } },
      scales: {
        x: { type: 'linear', display: false, min: p.xMin, max: p.xMax },
        y: { type: 'logarithmic', display: false, min: 1e-17, max: p.yMax }
      }
    },
    plugins: [decor(p)]
  });
});
</script>
</body>
</html>
